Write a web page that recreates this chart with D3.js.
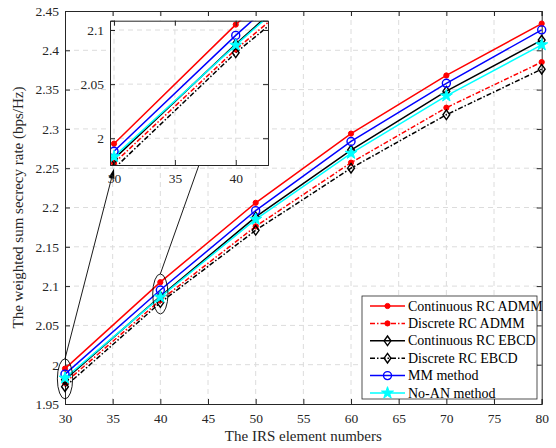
<!DOCTYPE html>
<html><head><meta charset="utf-8">
<script src="https://cdn.jsdelivr.net/npm/d3@7"></script>
<style>body{margin:0;background:#fff}svg{display:block}</style>
</head><body>
<script>
const xValues = [30, 40, 50, 60, 70, 80];
const contADMM = [1.995, 2.105, 2.206, 2.294, 2.368, 2.434];
const discADMM = [1.977, 2.082, 2.176, 2.257, 2.327, 2.385];
const contEBCD = [1.981, 2.087, 2.188, 2.273, 2.348, 2.413];
const discEBCD = [1.972, 2.079, 2.171, 2.250, 2.318, 2.376];
const mmMethod = [1.988, 2.095, 2.196, 2.284, 2.358, 2.426];
const noAN     = [1.983, 2.086, 2.185, 2.269, 2.342, 2.407];
const seriesNames = ["Continuous RC ADMM","Discrete RC ADMM","Continuous RC EBCD","Discrete RC EBCD","MM method","No-AN method"];
const xTicks = [30,35,40,45,50,55,60,65,70,75,80];
const yTicks = [1.95,2,2.05,2.1,2.15,2.2,2.25,2.3,2.35,2.4,2.45];
const yTickLabels = ["1.95","2","2.05","2.1","2.15","2.2","2.25","2.3","2.35","2.4","2.45"];
const insetXTicks = [30,35,40];
const insetYTicks = [2,2.05,2.1];
const insetYTickLabels = ["2","2.05","2.1"];
const ellipseCenters = [{x:30,y:1.982},{x:40,y:2.09}];
const arrowTargets = [{x:30,y:1.972},{x:40,y:2.071}];

const FONT = "'Liberation Serif', 'Times New Roman', Times, serif";
const styles = [
  {color:"#ff0000", dash:null, marker:"dot"},
  {color:"#ff0000", dash:"5,2,1.5,2", marker:"dot"},
  {color:"#000000", dash:null, marker:"diamond"},
  {color:"#000000", dash:"5,2,1.5,2", marker:"diamond"},
  {color:"#0000ff", dash:null, marker:"circle"},
  {color:"#00ffff", dash:null, marker:"star"}
];
const data = [contADMM, discADMM, contEBCD, discEBCD, mmMethod, noAN];

const W=556,H=448;
const svg=d3.select("body").append("svg").attr("width",W).attr("height",H).attr("font-family",FONT);
const L=65,R=541.7,T=11,B=404;
const x=d3.scaleLinear().domain([30,80]).range([L,R]);
const y=d3.scaleLinear().domain([1.95,2.45]).range([B,T]);

function drawMarker(g, type, color, px, py){
  if(type==="dot"){
    g.append("circle").attr("cx",px).attr("cy",py).attr("r",2.6).attr("fill",color).attr("stroke",color);
  } else if(type==="diamond"){
    g.append("path").attr("d",`M${px},${py-4.8}L${px+3.4},${py}L${px},${py+4.8}L${px-3.4},${py}Z`).attr("fill","none").attr("stroke",color).attr("stroke-width",1.4);
  } else if(type==="circle"){
    g.append("circle").attr("cx",px).attr("cy",py).attr("r",4).attr("fill","none").attr("stroke",color).attr("stroke-width",1.4);
  } else if(type==="star"){
    g.append("path").attr("d",d3.symbol().type(d3.symbolStar).size(45)()).attr("transform",`translate(${px},${py})`).attr("fill",color).attr("stroke",color);
  }
}

function drawPlot(g, xs, ys, clipId){
  const line=d3.line().x((d,i)=>xs(xValues[i])).y(d=>ys(d));
  const lg=g.append("g").attr("clip-path",clipId?`url(#${clipId})`:null);
  data.forEach((arr,k)=>{
    const s=styles[k];
    lg.append("path").attr("d",line(arr)).attr("fill","none").attr("stroke",s.color)
      .attr("stroke-width",1.5).attr("stroke-dasharray",s.dash);
  });
  data.forEach((arr,k)=>{
    const s=styles[k];
    arr.forEach((v,i)=>{
      const px=xs(xValues[i]), py=ys(v);
      const [d0,d1]=xs.domain();
      if(xValues[i]>=d0 && xValues[i]<=d1) drawMarker(lg,s.marker,s.color,px,py);
    });
  });
}

function styleAxis(a){
  a.attr("font-family",FONT);
  a.selectAll("path").attr("stroke","#262626");
  a.selectAll("line").attr("stroke","#262626");
  a.selectAll("text").attr("font-size","13.5px").attr("fill","#262626").attr("font-family",FONT);
}

// main grid
const grid=svg.append("g").attr("stroke","#dcdcdc").attr("stroke-width",1).attr("stroke-dasharray","5,4");
xTicks.slice(1,-1).forEach(t=>grid.append("line").attr("x1",x(t)).attr("x2",x(t)).attr("y1",T).attr("y2",B));
yTicks.slice(1,-1).forEach(t=>grid.append("line").attr("y1",y(t)).attr("y2",y(t)).attr("x1",L).attr("x2",R));

// axes
const ax=svg.append("g").attr("transform",`translate(0,${B})`).call(d3.axisBottom(x).tickValues(xTicks).tickSize(-5).tickPadding(9).tickFormat(d3.format("d")));
const ay=svg.append("g").attr("transform",`translate(${L},0)`).call(d3.axisLeft(y).tickValues(yTicks).tickSize(-5).tickPadding(6).tickFormat((d,i)=>yTickLabels[i]));
const axT=svg.append("g").attr("transform",`translate(0,${T})`).call(d3.axisTop(x).tickValues(xTicks).tickSize(-5).tickFormat(""));
const ayR=svg.append("g").attr("transform",`translate(${R},0)`).call(d3.axisRight(y).tickValues(yTicks).tickSize(-5).tickFormat(""));
[ax,ay,axT,ayR].forEach(styleAxis);

drawPlot(svg,x,y,null);

// axis labels
svg.append("text").attr("x",(L+R)/2).attr("y",441).attr("text-anchor","middle").attr("font-size","15px").attr("fill","#262626").text("The IRS element numbers");
svg.append("text").attr("transform",`translate(23,${(T+B)/2}) rotate(-90)`).attr("text-anchor","middle").attr("font-size","15px").attr("fill","#262626").text("The weighted sum secrecy rate (bps/Hz)");

// legend
const lgX=362, lgY=296, lgW=175, lgH=103;
const leg=svg.append("g");
leg.append("rect").attr("x",lgX).attr("y",lgY).attr("width",lgW).attr("height",lgH).attr("fill","#fff").attr("stroke","#262626").attr("stroke-width",0.8);
seriesNames.forEach((n,k)=>{
  const yy=lgY+10+k*17.4; const s=styles[k];
  leg.append("line").attr("x1",lgX+8).attr("x2",lgX+43).attr("y1",yy).attr("y2",yy).attr("stroke",s.color).attr("stroke-width",1.5).attr("stroke-dasharray",s.dash);
  drawMarker(leg,s.marker,s.color,lgX+25.5,yy);
  leg.append("text").attr("x",lgX+46).attr("y",yy+4.5).attr("font-size","14px").attr("fill","#000").text(n);
});

// inset
const iL=110,iR=268,iT=20.7,iB=165;
const ix=d3.scaleLinear().domain([29.67,42.65]).range([iL,iR]);
const iy=d3.scaleLinear().domain([1.9753,2.1086]).range([iB,iT]);

// ellipses and arrows (data coordinates)
const ann=svg.append("g");
ellipseCenters.forEach((c,i)=>{
  const cx=x(c.x), cy=y(c.y);
  const rx=x(c.x+0.8)-x(c.x), ry=y(c.y)-y(c.y+0.0255);
  ann.append("ellipse").attr("cx",cx).attr("cy",cy).attr("rx",rx).attr("ry",ry).attr("fill","none").attr("stroke","#000").attr("stroke-width",0.9);
  const x0=cx, y0=cy-ry;
  const x1=ix(arrowTargets[i].x), y1=iy(arrowTargets[i].y);
  const ang=Math.atan2(y1-y0,x1-x0);
  const hl=10, hw=3;
  const bx=x1-hl*Math.cos(ang), by=y1-hl*Math.sin(ang);
  ann.append("line").attr("x1",x0).attr("y1",y0).attr("x2",bx).attr("y2",by).attr("stroke","#000").attr("stroke-width",0.9);
  const px=-Math.sin(ang), py=Math.cos(ang);
  ann.append("path").attr("d",`M${x1},${y1}L${bx+hw*px},${by+hw*py}L${bx-hw*px},${by-hw*py}Z`).attr("fill","#000");
});

const inset=svg.append("g");
inset.append("rect").attr("x",iL).attr("y",iT).attr("width",iR-iL).attr("height",iB-iT).attr("fill","#fff");
svg.append("defs").append("clipPath").attr("id","iclip").append("rect").attr("x",iL).attr("y",iT).attr("width",iR-iL).attr("height",iB-iT);
const ig=inset.append("g").attr("stroke","#dcdcdc").attr("stroke-width",1).attr("stroke-dasharray","5,4");
insetXTicks.forEach(t=>ig.append("line").attr("x1",ix(t)).attr("x2",ix(t)).attr("y1",iT).attr("y2",iB));
insetYTicks.forEach(t=>ig.append("line").attr("y1",iy(t)).attr("y2",iy(t)).attr("x1",iL).attr("x2",iR));
drawPlot(inset,ix,iy,"iclip");
const iax=inset.append("g").attr("transform",`translate(0,${iB})`).call(d3.axisBottom(ix).tickValues(insetXTicks).tickSize(-5).tickPadding(8).tickFormat(d3.format("d")));
const iay=inset.append("g").attr("transform",`translate(${iL},0)`).call(d3.axisLeft(iy).tickValues(insetYTicks).tickSize(-5).tickPadding(6).tickFormat((d,i)=>insetYTickLabels[i]));
const iaxT=inset.append("g").attr("transform",`translate(0,${iT})`).call(d3.axisTop(ix).tickValues(insetXTicks).tickSize(-5).tickFormat(""));
const iayR=inset.append("g").attr("transform",`translate(${iR},0)`).call(d3.axisRight(iy).tickValues(insetYTicks).tickSize(-5).tickFormat(""));
[iax,iay,iaxT,iayR].forEach(styleAxis);
</script>
</body></html>
